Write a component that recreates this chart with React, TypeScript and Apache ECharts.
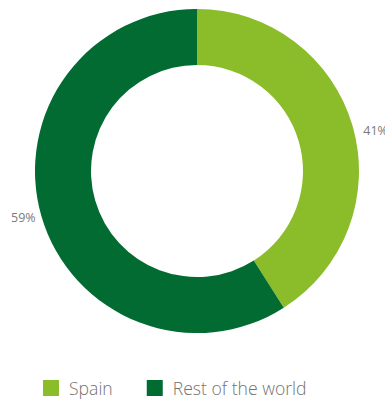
import React, { useEffect, useRef } from "react";
import * as echarts from "echarts";

const categories = ["Spain", "Rest of the world"];
const values = [41, 59];
const colors = ["#8abd29", "#016b31"];

export default function App() {
  const ref = useRef<HTMLDivElement>(null);
  useEffect(() => {
    if (!ref.current) return;
    const chart = echarts.init(ref.current, null, { renderer: "svg" });
    chart.setOption({
      animation: false,
      textStyle: { fontFamily: "Open Sans" },
      legend: {
        data: categories,
        left: 43,
        top: 379,
        padding: 0,
        itemWidth: 16,
        itemHeight: 16,
        itemGap: 34,
        icon: "rect",
        textStyle: {
          fontSize: 17.6,
          lineHeight: 16,
          color: "#727272",
          fontFamily: "Open Sans",
          fontWeight: 300,
          padding: [0, 0, 0, 5],
        },
      },
      series: [
        {
          type: "pie",
          center: [197, 171],
          radius: [106, 162],
          startAngle: 90,
          clockwise: true,
          avoidLabelOverlap: false,
          label: {
            show: true,
            position: "outside",
            formatter: "{d}%",
            fontSize: 12.5,
            color: "#7a7a7a",
            fontFamily: "Open Sans",
            distanceToLabelLine: 0,
          },
          labelLine: { show: false, length: 6, length2: 0 },
          labelLayout: (params: any) =>
            params.dataIndex === 0 ? { dx: 5, dy: 6 } : {},
          emphasis: { disabled: true },
          data: categories.map((name, i) => ({
            name,
            value: values[i],
            itemStyle: { color: colors[i] },
          })),
        },
      ],
    });
    return () => chart.dispose();
  }, []);
  return <div ref={ref} style={{ width: 385, height: 399, position: "absolute", left: 0, top: 0 }} />;
}
